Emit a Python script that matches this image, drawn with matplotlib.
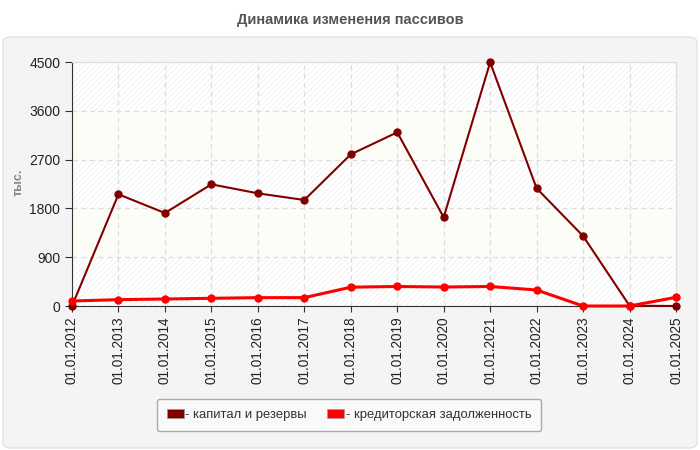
import numpy as np
import matplotlib.pyplot as plt
from matplotlib.patches import FancyBboxPatch, Patch

plt.rcParams['font.family'] = ['Liberation Sans', 'DejaVu Sans']

# данные
dates = ['01.01.2012', '01.01.2013', '01.01.2014', '01.01.2015', '01.01.2016',
         '01.01.2017', '01.01.2018', '01.01.2019', '01.01.2020', '01.01.2021',
         '01.01.2022', '01.01.2023', '01.01.2024', '01.01.2025']
capital = [0, 2060, 1715, 2244, 2078, 1955, 2797, 3203, 1635, 4494, 2170, 1291, 5, 0]
payables = [92, 117, 129, 142, 154, 154, 347, 360, 350, 360, 295, 0, 0, 160]
yticks = [0, 900, 1800, 2700, 3600, 4500]

fig = plt.figure(figsize=(7, 4.5), dpi=100)
fig.patch.set_facecolor('white')

# серая панель под графиком
panel = FancyBboxPatch((3 / 700, 1 - 448 / 450), 694 / 700, 411 / 450,
                       boxstyle='round,pad=0,rounding_size=0.012',
                       transform=fig.transFigure, facecolor='#f4f4f4',
                       edgecolor='#e2e2e2', lw=1, zorder=-5)
fig.patches.append(panel)

fig.text(0.5, 1 - 20 / 450, 'Динамика изменения пассивов', ha='center', va='center',
         fontsize=10.5, fontweight='bold', color='#555555')

ax = fig.add_axes([72 / 700, 1 - 306 / 450, 604 / 700, 244 / 450])
ax.set_facecolor('white')
x = np.arange(len(dates))

# полосы фона
plt.rcParams['hatch.linewidth'] = 0.5
for i in range(len(yticks) - 1):
    if i % 2 == 0:
        ax.axhspan(yticks[i], yticks[i + 1], facecolor='white', edgecolor='#eeeeee',
                   hatch='//////', lw=0, zorder=0)
    else:
        ax.axhspan(yticks[i], yticks[i + 1], facecolor='#fdfdf8', lw=0, zorder=0)

ax.grid(True, color='#dddddd', linestyle=(0, (4, 3)), lw=0.9, zorder=1)
ax.set_axisbelow(True)

ax.plot(x, capital, color='#800000', lw=1.5, marker='o', ms=5, zorder=3, clip_on=False)
ax.plot(x, payables, color='#ff0000', lw=2.2, marker='o', ms=5, zorder=4, clip_on=False)

ax.set_xlim(0, len(dates) - 1)
ax.set_ylim(0, 4500)
ax.set_yticks(yticks)
ax.set_xticks(x)
ax.set_xticklabels(dates, rotation=90, fontsize=9.8, color='#222222')
ax.tick_params(axis='y', labelsize=10, colors='#222222', length=5, color='#333333')
ax.tick_params(axis='x', length=4, color='#333333')

for s in ['left', 'bottom']:
    ax.spines[s].set_color('#333333')
for s in ['top', 'right']:
    ax.spines[s].set_color('#dddddd')

fig.text(19 / 700, 1 - 182 / 450, 'тыс.', rotation=90, ha='center', va='center',
         fontsize=9, fontweight='bold', color='#888888')

handles = [Patch(facecolor='#800000', edgecolor='#999999', lw=0.5),
           Patch(facecolor='#ff0000', edgecolor='#999999', lw=0.5)]
leg = fig.legend(handles, ['- капитал и резервы', '- кредиторская задолженность'],
                 loc='center', bbox_to_anchor=(349 / 700, 1 - 415 / 450), ncol=2,
                 fontsize=9.4, frameon=True, fancybox=True, handlelength=1.3,
                 handleheight=0.6, handletextpad=0.1, columnspacing=1.6,
                 borderpad=0.75, edgecolor='#aaaaaa', facecolor='#f9f9f9', framealpha=1)
for t in leg.get_texts():
    t.set_color('#333333')

fig.savefig('out.png', dpi=100)
